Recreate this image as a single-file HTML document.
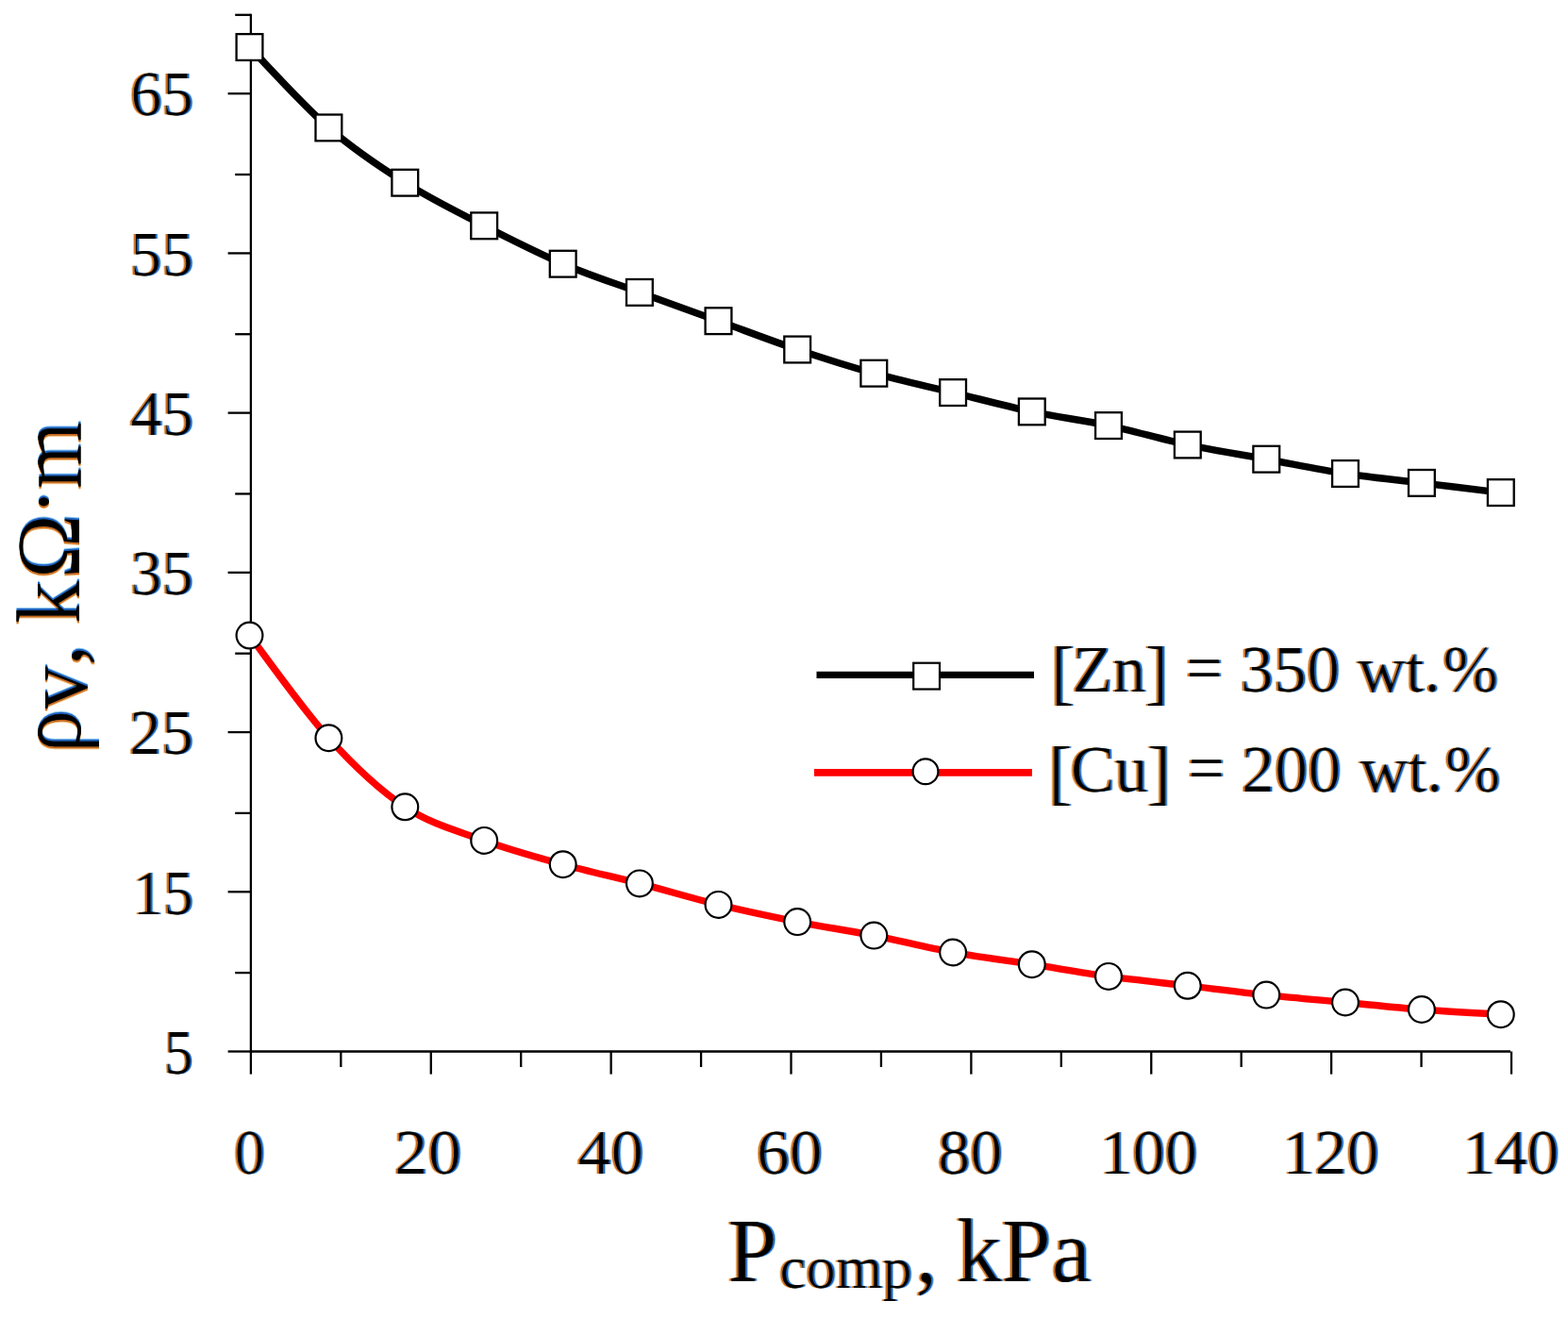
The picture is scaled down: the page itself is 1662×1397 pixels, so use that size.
<!DOCTYPE html>
<html><head><meta charset="utf-8"><title>chart</title>
<style>html,body{margin:0;padding:0;background:#fff;}svg{display:block;}text{font-kerning:none;}</style>
</head><body>
<svg width="1662" height="1397" viewBox="0 0 1662 1397">
<defs>
<filter id="ct" x="-30%" y="-10%" width="160%" height="120%" color-interpolation-filters="sRGB">
<feOffset in="SourceAlpha" dx="-1.6" result="a1"/><feFlood flood-color="#f4c486"/><feComposite in2="a1" operator="in" result="o1"/>
<feOffset in="SourceAlpha" dx="-0.8" result="a2"/><feFlood flood-color="#d08a3c"/><feComposite in2="a2" operator="in" result="o2"/>
<feOffset in="SourceAlpha" dx="0.8" result="a3"/><feFlood flood-color="#3a78c8"/><feComposite in2="a3" operator="in" result="b2"/>
<feOffset in="SourceAlpha" dx="1.6" result="a4"/><feFlood flood-color="#8cccf4"/><feComposite in2="a4" operator="in" result="b1"/>
<feBlend in="o1" in2="b1" mode="multiply" result="m1"/>
<feBlend in="o2" in2="m1" mode="multiply" result="m2"/>
<feBlend in="b2" in2="m2" mode="multiply" result="m3"/>
<feMorphology in="SourceAlpha" operator="erode" radius="0.9,0" result="core"/>
<feMerge><feMergeNode in="m3"/><feMergeNode in="core"/></feMerge>
</filter>
</defs>
<rect width="1662" height="1397" fill="#fff"/>
<path d="M265.90,14.64 V1114.50 H1601.00" fill="none" stroke="#000" stroke-width="2.3"/>
<line x1="241.6" y1="1114.50" x2="265.90" y2="1114.50" stroke="#000" stroke-width="2.3"/>
<line x1="249.2" y1="1031.09" x2="265.90" y2="1031.09" stroke="#000" stroke-width="2.3"/>
<line x1="241.6" y1="945.28" x2="265.90" y2="945.28" stroke="#000" stroke-width="2.3"/>
<line x1="249.2" y1="861.88" x2="265.90" y2="861.88" stroke="#000" stroke-width="2.3"/>
<line x1="241.6" y1="776.07" x2="265.90" y2="776.07" stroke="#000" stroke-width="2.3"/>
<line x1="249.2" y1="692.66" x2="265.90" y2="692.66" stroke="#000" stroke-width="2.3"/>
<line x1="241.6" y1="606.85" x2="265.90" y2="606.85" stroke="#000" stroke-width="2.3"/>
<line x1="249.2" y1="523.44" x2="265.90" y2="523.44" stroke="#000" stroke-width="2.3"/>
<line x1="241.6" y1="437.63" x2="265.90" y2="437.63" stroke="#000" stroke-width="2.3"/>
<line x1="249.2" y1="354.22" x2="265.90" y2="354.22" stroke="#000" stroke-width="2.3"/>
<line x1="241.6" y1="268.42" x2="265.90" y2="268.42" stroke="#000" stroke-width="2.3"/>
<line x1="249.2" y1="185.01" x2="265.90" y2="185.01" stroke="#000" stroke-width="2.3"/>
<line x1="241.6" y1="99.20" x2="265.90" y2="99.20" stroke="#000" stroke-width="2.3"/>
<line x1="249.2" y1="15.79" x2="265.90" y2="15.79" stroke="#000" stroke-width="2.3"/>
<line x1="265.90" y1="1114.50" x2="265.90" y2="1138.6" stroke="#000" stroke-width="2.3"/>
<line x1="361.34" y1="1114.50" x2="361.34" y2="1131.0" stroke="#000" stroke-width="2.3"/>
<line x1="456.77" y1="1114.50" x2="456.77" y2="1138.6" stroke="#000" stroke-width="2.3"/>
<line x1="552.21" y1="1114.50" x2="552.21" y2="1131.0" stroke="#000" stroke-width="2.3"/>
<line x1="647.64" y1="1114.50" x2="647.64" y2="1138.6" stroke="#000" stroke-width="2.3"/>
<line x1="743.08" y1="1114.50" x2="743.08" y2="1131.0" stroke="#000" stroke-width="2.3"/>
<line x1="838.51" y1="1114.50" x2="838.51" y2="1138.6" stroke="#000" stroke-width="2.3"/>
<line x1="933.95" y1="1114.50" x2="933.95" y2="1131.0" stroke="#000" stroke-width="2.3"/>
<line x1="1029.39" y1="1114.50" x2="1029.39" y2="1138.6" stroke="#000" stroke-width="2.3"/>
<line x1="1124.82" y1="1114.50" x2="1124.82" y2="1131.0" stroke="#000" stroke-width="2.3"/>
<line x1="1220.26" y1="1114.50" x2="1220.26" y2="1138.6" stroke="#000" stroke-width="2.3"/>
<line x1="1315.69" y1="1114.50" x2="1315.69" y2="1131.0" stroke="#000" stroke-width="2.3"/>
<line x1="1411.13" y1="1114.50" x2="1411.13" y2="1138.6" stroke="#000" stroke-width="2.3"/>
<line x1="1506.56" y1="1114.50" x2="1506.56" y2="1131.0" stroke="#000" stroke-width="2.3"/>
<line x1="1602.00" y1="1114.50" x2="1602.00" y2="1138.6" stroke="#000" stroke-width="2.3"/>
<path d="M264.50,673.50 C278.48,691.62 320.93,751.90 348.40,782.20 C375.87,812.50 401.83,837.18 429.30,855.30 C456.77,873.42 485.30,880.75 513.20,890.90 C541.10,901.05 569.25,908.62 596.70,916.20 C624.15,923.78 650.43,929.28 677.90,936.40 C705.37,943.52 733.62,952.12 761.50,958.90 C789.38,965.68 817.73,971.65 845.20,977.10 C872.67,982.55 898.82,986.20 926.30,991.60 C953.78,997.00 982.18,1004.40 1010.10,1009.50 C1038.02,1014.60 1066.32,1017.97 1093.80,1022.20 C1121.28,1026.43 1147.50,1031.13 1175.00,1034.90 C1202.50,1038.67 1230.92,1041.52 1258.80,1044.80 C1286.68,1048.08 1314.43,1051.65 1342.30,1054.60 C1370.17,1057.55 1398.57,1059.93 1426.00,1062.50 C1453.43,1065.07 1479.43,1067.88 1506.90,1070.00 C1534.37,1072.12 1576.82,1074.33 1590.80,1075.20" fill="none" stroke="#ff0000" stroke-width="7.4" stroke-linejoin="round"/>
<path d="M264.50,50.00 C278.48,64.23 320.93,111.45 348.40,135.40 C375.87,159.35 401.83,176.38 429.30,193.70 C456.77,211.02 485.30,224.97 513.20,239.30 C541.10,253.63 569.25,267.93 596.70,279.70 C624.15,291.47 650.43,299.82 677.90,309.90 C705.37,319.98 733.62,330.10 761.50,340.20 C789.38,350.30 817.73,361.25 845.20,370.50 C872.67,379.75 898.82,388.10 926.30,395.70 C953.78,403.30 982.18,409.32 1010.10,416.10 C1038.02,422.88 1066.32,430.57 1093.80,436.40 C1121.28,442.23 1147.50,445.25 1175.00,451.10 C1202.50,456.95 1230.92,465.57 1258.80,471.50 C1286.68,477.43 1314.43,481.62 1342.30,486.70 C1370.17,491.78 1398.57,497.80 1426.00,502.00 C1453.43,506.20 1479.43,508.55 1506.90,511.90 C1534.37,515.25 1576.82,520.40 1590.80,522.10" fill="none" stroke="#000" stroke-width="7.5" stroke-linejoin="round"/>
<rect x="250.60" y="36.10" width="27.8" height="27.8" fill="#fff" stroke="#000" stroke-width="2.3"/>
<rect x="334.50" y="121.50" width="27.8" height="27.8" fill="#fff" stroke="#000" stroke-width="2.3"/>
<rect x="415.40" y="179.80" width="27.8" height="27.8" fill="#fff" stroke="#000" stroke-width="2.3"/>
<rect x="499.30" y="225.40" width="27.8" height="27.8" fill="#fff" stroke="#000" stroke-width="2.3"/>
<rect x="582.80" y="265.80" width="27.8" height="27.8" fill="#fff" stroke="#000" stroke-width="2.3"/>
<rect x="664.00" y="296.00" width="27.8" height="27.8" fill="#fff" stroke="#000" stroke-width="2.3"/>
<rect x="747.60" y="326.30" width="27.8" height="27.8" fill="#fff" stroke="#000" stroke-width="2.3"/>
<rect x="831.30" y="356.60" width="27.8" height="27.8" fill="#fff" stroke="#000" stroke-width="2.3"/>
<rect x="912.40" y="381.80" width="27.8" height="27.8" fill="#fff" stroke="#000" stroke-width="2.3"/>
<rect x="996.20" y="402.20" width="27.8" height="27.8" fill="#fff" stroke="#000" stroke-width="2.3"/>
<rect x="1079.90" y="422.50" width="27.8" height="27.8" fill="#fff" stroke="#000" stroke-width="2.3"/>
<rect x="1161.10" y="437.20" width="27.8" height="27.8" fill="#fff" stroke="#000" stroke-width="2.3"/>
<rect x="1244.90" y="457.60" width="27.8" height="27.8" fill="#fff" stroke="#000" stroke-width="2.3"/>
<rect x="1328.40" y="472.80" width="27.8" height="27.8" fill="#fff" stroke="#000" stroke-width="2.3"/>
<rect x="1412.10" y="488.10" width="27.8" height="27.8" fill="#fff" stroke="#000" stroke-width="2.3"/>
<rect x="1493.00" y="498.00" width="27.8" height="27.8" fill="#fff" stroke="#000" stroke-width="2.3"/>
<rect x="1576.90" y="508.20" width="27.8" height="27.8" fill="#fff" stroke="#000" stroke-width="2.3"/>
<circle cx="264.50" cy="673.50" r="13.9" fill="#fff" stroke="#000" stroke-width="2.2"/>
<circle cx="348.40" cy="782.20" r="13.9" fill="#fff" stroke="#000" stroke-width="2.2"/>
<circle cx="429.30" cy="855.30" r="13.9" fill="#fff" stroke="#000" stroke-width="2.2"/>
<circle cx="513.20" cy="890.90" r="13.9" fill="#fff" stroke="#000" stroke-width="2.2"/>
<circle cx="596.70" cy="916.20" r="13.9" fill="#fff" stroke="#000" stroke-width="2.2"/>
<circle cx="677.90" cy="936.40" r="13.9" fill="#fff" stroke="#000" stroke-width="2.2"/>
<circle cx="761.50" cy="958.90" r="13.9" fill="#fff" stroke="#000" stroke-width="2.2"/>
<circle cx="845.20" cy="977.10" r="13.9" fill="#fff" stroke="#000" stroke-width="2.2"/>
<circle cx="926.30" cy="991.60" r="13.9" fill="#fff" stroke="#000" stroke-width="2.2"/>
<circle cx="1010.10" cy="1009.50" r="13.9" fill="#fff" stroke="#000" stroke-width="2.2"/>
<circle cx="1093.80" cy="1022.20" r="13.9" fill="#fff" stroke="#000" stroke-width="2.2"/>
<circle cx="1175.00" cy="1034.90" r="13.9" fill="#fff" stroke="#000" stroke-width="2.2"/>
<circle cx="1258.80" cy="1044.80" r="13.9" fill="#fff" stroke="#000" stroke-width="2.2"/>
<circle cx="1342.30" cy="1054.60" r="13.9" fill="#fff" stroke="#000" stroke-width="2.2"/>
<circle cx="1426.00" cy="1062.50" r="13.9" fill="#fff" stroke="#000" stroke-width="2.2"/>
<circle cx="1506.90" cy="1070.00" r="13.9" fill="#fff" stroke="#000" stroke-width="2.2"/>
<circle cx="1590.80" cy="1075.20" r="13.9" fill="#fff" stroke="#000" stroke-width="2.2"/>
<line x1="865.5" y1="715.4" x2="1096" y2="715.4" stroke="#000" stroke-width="7.2"/>
<rect x="968.2" y="702.7" width="27.8" height="27.8" fill="#fff" stroke="#000" stroke-width="2.2"/>
<line x1="863" y1="818.95" x2="1093.9" y2="818.95" stroke="#ff0000" stroke-width="7.7"/>
<circle cx="981" cy="817.7" r="13.4" fill="#fff" stroke="#000" stroke-width="2.2"/>
<text transform="translate(137.92,122.44) scale(0.9868,0.9981)" font-size="68" font-family="'Liberation Serif', serif" fill="#000" filter="url(#ct)">65</text>
<text transform="translate(137.79,291.65) scale(0.9887,1.0091)" font-size="68" font-family="'Liberation Serif', serif" fill="#000" filter="url(#ct)">55</text>
<text transform="translate(137.99,460.87) scale(0.9857,1.0039)" font-size="68" font-family="'Liberation Serif', serif" fill="#000" filter="url(#ct)">45</text>
<text transform="translate(138.20,630.09) scale(0.9824,0.9981)" font-size="68" font-family="'Liberation Serif', serif" fill="#000" filter="url(#ct)">35</text>
<text transform="translate(136.80,799.30) scale(1.0039,0.9981)" font-size="68" font-family="'Liberation Serif', serif" fill="#000" filter="url(#ct)">25</text>
<text transform="translate(140.87,968.52) scale(0.9416,1.0010)" font-size="68" font-family="'Liberation Serif', serif" fill="#000" filter="url(#ct)">15</text>
<text transform="translate(173.79,1137.73) scale(0.9127,1.0091)" font-size="68" font-family="'Liberation Serif', serif" fill="#000" filter="url(#ct)">5</text>
<text transform="translate(248.23,1243.55) scale(0.9542,0.9807)" font-size="68" font-family="'Liberation Serif', serif" fill="#000" filter="url(#ct)">0</text>
<text transform="translate(417.66,1243.55) scale(1.0509,0.9807)" font-size="68" font-family="'Liberation Serif', serif" fill="#000" filter="url(#ct)">20</text>
<text transform="translate(612.33,1243.55) scale(1.0299,0.9807)" font-size="68" font-family="'Liberation Serif', serif" fill="#000" filter="url(#ct)">40</text>
<text transform="translate(801.68,1243.55) scale(1.0322,0.9807)" font-size="68" font-family="'Liberation Serif', serif" fill="#000" filter="url(#ct)">60</text>
<text transform="translate(993.98,1243.55) scale(1.0108,0.9807)" font-size="68" font-family="'Liberation Serif', serif" fill="#000" filter="url(#ct)">80</text>
<text transform="translate(1165.84,1243.55) scale(1.0136,0.9807)" font-size="68" font-family="'Liberation Serif', serif" fill="#000" filter="url(#ct)">100</text>
<text transform="translate(1359.20,1243.55) scale(1.0039,0.9807)" font-size="68" font-family="'Liberation Serif', serif" fill="#000" filter="url(#ct)">120</text>
<text transform="translate(1550.42,1243.55) scale(1.0007,0.9807)" font-size="68" font-family="'Liberation Serif', serif" fill="#000" filter="url(#ct)">140</text>
<text transform="scale(1.0056,1.0000)" font-family="'Liberation Serif', serif" fill="#000" filter="url(#ct)"><tspan x="1107.42" y="738.08" font-size="76">[</tspan><tspan x="1129.98" y="733.22" font-size="70">Zn</tspan><tspan x="1206.48" y="738.08" font-size="76">]</tspan> <tspan x="1249.43" y="732.24" font-size="70">=</tspan> <tspan x="1307.26" y="733.13" font-size="70">350</tspan> <tspan x="1430.85" y="732.56" font-size="70">wt.</tspan><tspan x="1520.79" y="733.01" font-size="70">%</tspan></text>
<text transform="scale(1.0079,1.0000)" font-family="'Liberation Serif', serif" fill="#000" filter="url(#ct)"><tspan x="1102.18" y="844.28" font-size="76">[</tspan><tspan x="1125.65" y="839.03" font-size="70">Cu</tspan><tspan x="1206.28" y="844.28" font-size="76">]</tspan> <tspan x="1248.70" y="838.44" font-size="70">=</tspan> <tspan x="1305.51" y="839.03" font-size="70">200</tspan> <tspan x="1430.04" y="838.61" font-size="70">wt.</tspan><tspan x="1519.40" y="838.91" font-size="70">%</tspan></text>
<text transform="scale(0.9932,1.0000)" font-family="'Liberation Serif', serif" fill="#000" filter="url(#ct)"><tspan x="776.21" y="1357.93" font-size="96">P</tspan><tspan x="831.63" y="1364.82" font-size="64">comp</tspan><tspan x="976.67" y="1359.41" font-size="96">,</tspan> <tspan x="1020.63" y="1357.94" font-size="96">kPa</tspan></text>
<text transform="rotate(-90) scale(0.9749,1.0000)" font-family="'Liberation Serif', serif" fill="#000" filter="url(#ct)"><tspan x="-818.79" y="85.23" font-size="95">ρ</tspan><tspan x="-771.49" y="91.59" font-size="95">v</tspan><tspan x="-724.17" y="85.94" font-size="95">,</tspan> <tspan x="-678.48" y="84.21" font-size="95">k</tspan><tspan x="-629.22" y="84.15" font-size="95">Ω</tspan><tspan x="-561.43" y="77.75" font-size="95">·</tspan><tspan x="-531.73" y="85.23" font-size="95">m</tspan></text>
</svg>
</body></html>
